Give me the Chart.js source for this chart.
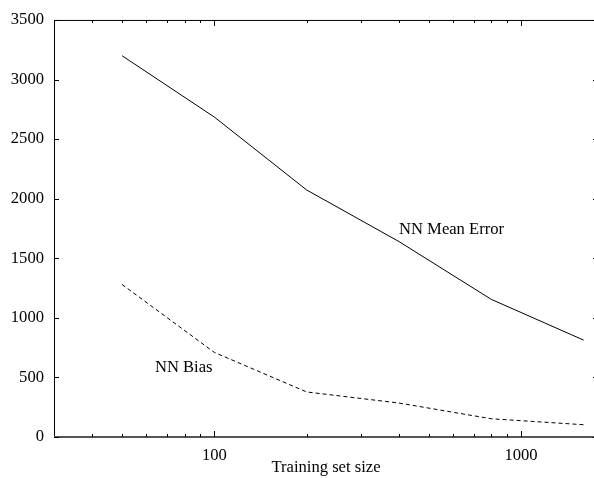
<!DOCTYPE html>
<html>
<head>
<meta charset="utf-8">
<script src="https://cdn.jsdelivr.net/npm/chart.js@4/dist/chart.umd.min.js"></script>
<style>
  html, body { margin: 0; padding: 0; background: #fff; overflow: hidden; }
  #wrap { width: 594px; height: 478px; overflow: hidden; }
</style>
</head>
<body>
<div id="wrap"><canvas id="c" width="600" height="478"></canvas></div>
<script>
// training set sizes and the two curves
const sizes = [50, 100, 200, 400, 800, 1600];
const meanError = [3200, 2685, 2073, 1640, 1155, 813];
const bias = [1280, 710, 378, 285, 153, 103];
const xTicks = [40, 50, 60, 70, 80, 90, 100, 200, 300, 400, 500, 600, 700, 800, 900, 1000];
const xLabels = [100, 1000];
const curveLabels = [
    { text: 'NN Mean Error', x: 400, y: 1742 },
    { text: 'NN Bias', x: 64, y: 582 }
];

const FONT = 'Liberation Serif';
const FSIZE = 16.6;

// gnuplot style frame with ticks pointing inward
const framePlugin = {
    id: 'frame',
    afterDatasetsDraw(chart) {
        const ctx = chart.ctx;
        const a = chart.chartArea;
        const xs = chart.scales.x, ys = chart.scales.y;
        ctx.save();
        ctx.strokeStyle = '#000';
        ctx.lineWidth = 1;
        ctx.strokeRect(a.left + 0.5, a.top + 0.5, a.right - a.left, a.bottom - a.top);
        // zero axis overlapping the bottom border
        ctx.strokeStyle = '#555';
        ctx.lineWidth = 2;
        ctx.beginPath();
        ctx.moveTo(a.left, a.bottom);
        ctx.lineTo(a.right, a.bottom);
        ctx.stroke();
        ctx.strokeStyle = '#000';
        ctx.lineWidth = 1;
        ctx.beginPath();
        ys.ticks.forEach(t => {
            const y = Math.round(ys.getPixelForValue(t.value)) + 0.5;
            ctx.moveTo(a.left, y); ctx.lineTo(a.left + 5, y);
            ctx.moveTo(a.right, y); ctx.lineTo(a.right - 5, y);
        });
        xs.ticks.forEach(t => {
            const x = Math.round(xs.getPixelForValue(t.value)) + 0.5;
            const len = xLabels.includes(t.value) ? 6 : 3;
            ctx.moveTo(x, a.bottom); ctx.lineTo(x, a.bottom - len);
            ctx.moveTo(x, a.top); ctx.lineTo(x, a.top + len);
        });
        ctx.stroke();
        ctx.fillStyle = '#000';
        ctx.font = FSIZE + 'px "' + FONT + '"';
        ctx.textBaseline = 'middle';
        ctx.textAlign = 'left';
        curveLabels.forEach(l => {
            ctx.fillText(l.text, xs.getPixelForValue(l.x), ys.getPixelForValue(l.y));
        });
        ctx.restore();
    }
};

new Chart(document.getElementById('c'), {
    type: 'line',
    data: {
        datasets: [{
            label: 'NN Mean Error',
            data: sizes.map((s, i) => ({ x: s, y: meanError[i] })),
            borderColor: '#000',
            borderWidth: 1,
            pointRadius: 0,
            fill: false
        }, {
            label: 'NN Bias',
            data: sizes.map((s, i) => ({ x: s, y: bias[i] })),
            borderColor: '#000',
            borderWidth: 1,
            borderDash: [4, 3],
            pointRadius: 0,
            fill: false
        }]
    },
    options: {
        responsive: false,
        animation: false,
        layout: { padding: { top: 17, right: 2, left: 0, bottom: 0 } },
        plugins: { legend: { display: false }, tooltip: { enabled: false } },
        scales: {
            x: {
                type: 'logarithmic',
                min: 30,
                max: 1782,
                grid: { display: false, drawTicks: false },
                border: { display: false },
                afterBuildTicks(scale) {
                    scale.ticks = xTicks.map(v => ({ value: v }));
                },
                afterFit(scale) { scale.height = 41; },
                ticks: {
                    autoSkip: false,
                    maxRotation: 0,
                    padding: 9,
                    color: '#000',
                    font: { family: FONT, size: FSIZE },
                    callback: v => xLabels.includes(v) ? String(v) : ''
                },
                title: {
                    display: true,
                    text: 'Training set size',
                    color: '#000',
                    padding: { top: -4, bottom: 0 },
                    font: { family: FONT, size: FSIZE }
                }
            },
            y: {
                min: 0,
                max: 3500,
                grid: { display: false, drawTicks: false },
                border: { display: false },
                afterFit(scale) { scale.width = 54; },
                ticks: {
                    stepSize: 500,
                    padding: 10,
                    color: '#000',
                    font: { family: FONT, size: FSIZE },
                    callback: v => String(v)
                }
            }
        }
    },
    plugins: [framePlugin]
});
</script>
</body>
</html>
